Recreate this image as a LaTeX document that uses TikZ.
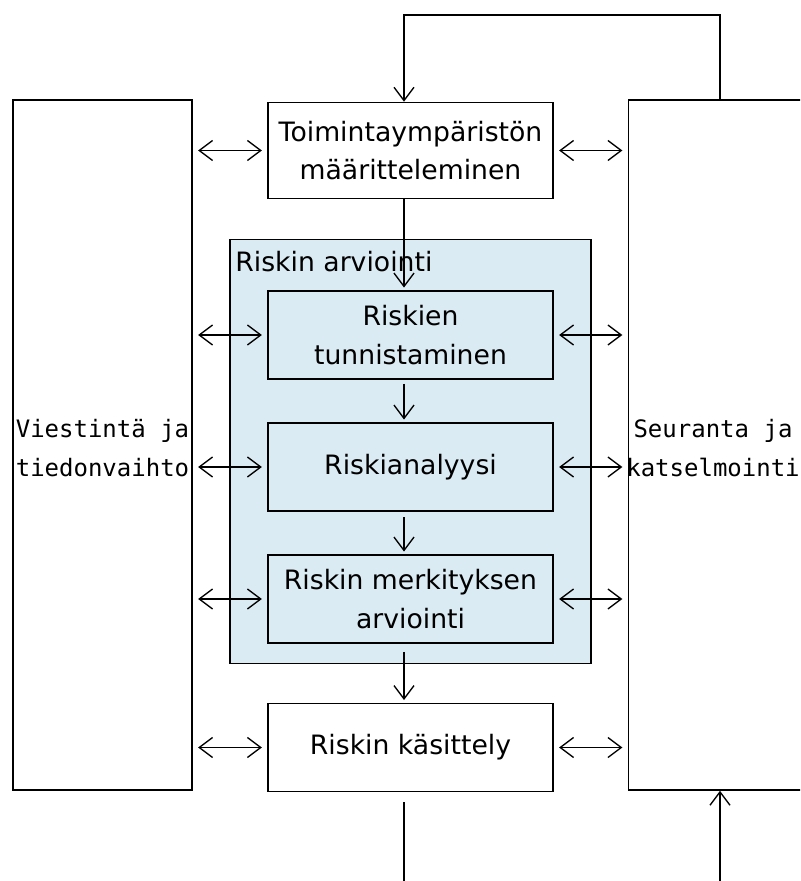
\documentclass[tikz,border=0pt]{standalone}
\usepackage{fontspec}
\setmainfont{DejaVu Sans}
\setmonofont{DejaVu Sans Mono}
\usetikzlibrary{arrows.meta}
\definecolor{riskblue}{RGB}{218,235,243}

\begin{document}
\begin{tikzpicture}[x=0.75pt,y=-0.75pt,
    box/.style={draw,line width=1.2pt,fill=white,minimum width=213.75pt,minimum height=66pt,
      align=center,inner sep=0pt,font=\fontsize{20}{29}\selectfont},
    sidebox/.style={draw,line width=1.2pt,fill=white,minimum width=134.25pt,minimum height=517.5pt,inner sep=0pt},
    sidetext/.style={align=center,inner sep=0pt,font=\ttfamily\fontsize{18}{29}\selectfont},
    arr/.style={-{Straight Barb[length=10pt,width=15pt,line width=1pt]},line width=1pt},
    biarr/.style={{Straight Barb[length=10pt,width=15pt,line width=1pt]}-{Straight Barb[length=10pt,width=15pt,line width=1pt]},
      line width=1pt,shorten <=4pt,shorten >=4pt}]
      \clip (0,0) rectangle (800,881);

      \node[sidebox] (comm) at (102.5,445) {};
      \node[sidebox] (mon) at (718,445) {};
      \node[sidetext] (commlbl) at (102.5,448) {Viestintä ja\\tiedonvaihto};
      \node[sidetext] (monlbl) at (713,448) {Seuranta ja\\katselmointi};
      \node[draw,line width=1.2pt,fill=riskblue,minimum width=270.75pt,minimum height=318pt] (assess) at (410.4,451.3) {};
      \node[anchor=base west,inner sep=0pt,font=\fontsize{20}{29}\selectfont] (assesslbl)
        at ([xshift=4.5pt,yshift=-24.5pt]assess.north west) {Riskin arviointi};

      \node[box,minimum height=72pt] (ctx) at (410.5,150.5) {Toimintaympäristön\\määritteleminen};
      \node[box,fill=riskblue] (tunn) at (410.5,335) {Riskien\\tunnistaminen};
      \node[box,fill=riskblue] (anal) at (410.5,467) {Riskianalyysi};
      \node[box,fill=riskblue] (merk) at (410.5,599) {Riskin merkityksen\\arviointi};
      \node[box] (kas) at (410.5,747.5) {Riskin käsittely};

      \coordinate (fb) at (404,15);
      \coordinate (outL) at (404,881);
      \coordinate (outR) at (720,881);

      \draw[arr] (outR |- mon.north) |- (fb) -- (fb |- ctx.north);
      \draw[arr,shorten >=2pt] (fb |- ctx.south) -- (fb |- tunn.north);
      \draw[arr,shorten <=3pt,shorten >=2pt] (fb |- tunn.south) -- (fb |- anal.north);
      \draw[arr,shorten <=4pt,shorten >=2pt] (fb |- anal.south) -- (fb |- merk.north);
      \draw[arr,shorten <=6pt,shorten >=2pt] (fb |- merk.south) -- (fb |- kas.north);
      \draw[line width=1pt,shorten <=7.5pt] (fb |- kas.south) -- (outL);
      \draw[arr] (outR) -- (outR |- mon.south);

      \draw[biarr] (comm.east |- ctx.west) -- (ctx.west);
      \draw[biarr] (comm.east |- tunn.west) -- (tunn.west);
      \draw[biarr] (comm.east |- anal.west) -- (anal.west);
      \draw[biarr] (comm.east |- merk.west) -- (merk.west);
      \draw[biarr] (comm.east |- kas.west) -- (kas.west);
      \draw[biarr] (ctx.east) -- (mon.west |- ctx.east);
      \draw[biarr] (tunn.east) -- (mon.west |- tunn.east);
      \draw[biarr] (anal.east) -- (mon.west |- anal.east);
      \draw[biarr] (merk.east) -- (mon.west |- merk.east);
      \draw[biarr] (kas.east) -- (mon.west |- kas.east);
    \end{tikzpicture}
\end{document}
